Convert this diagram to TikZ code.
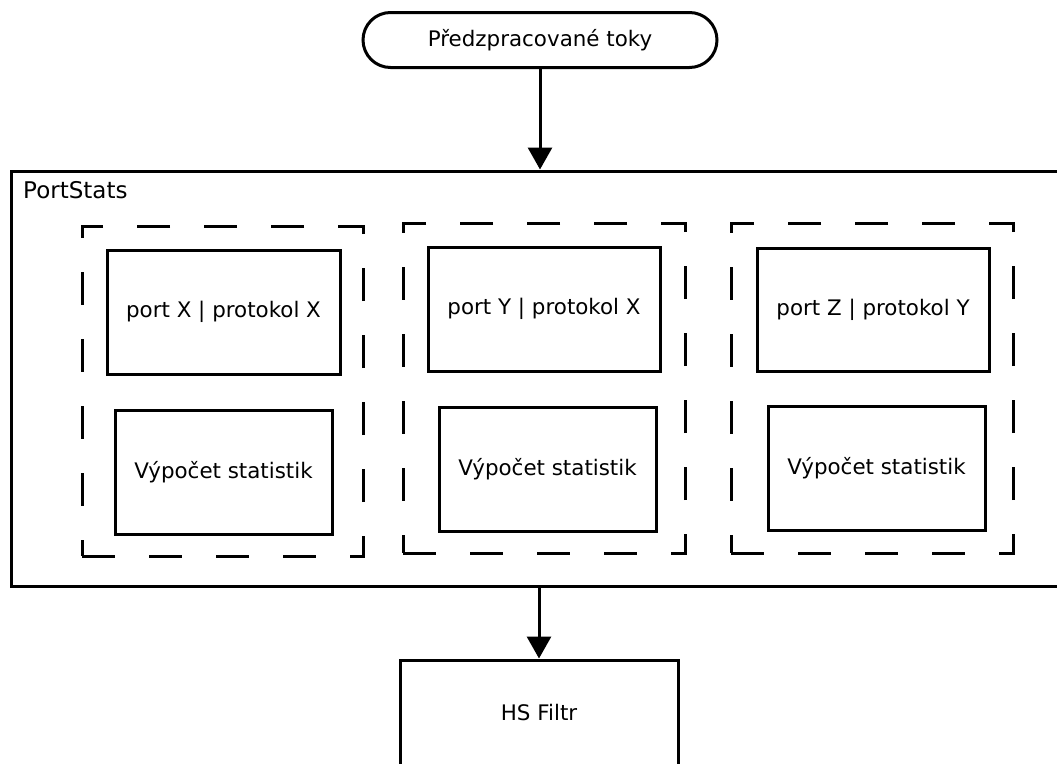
\documentclass[tikz,border=0pt]{standalone}
\usepackage{fontspec}
\setmainfont{DejaVu Sans}
\usetikzlibrary{positioning, arrows.meta, shapes.misc}

\tikzset{
  terminal/.style={draw, rounded rectangle, line width=3pt, minimum width=354pt, minimum height=55pt, inner sep=0pt},
  outerbox/.style={draw, rectangle, line width=3pt, inner sep=0pt},
  groupbox/.style={draw, rectangle, line width=3pt, dash pattern=on 33pt off 34pt, minimum width=281pt, minimum height=330pt, inner sep=0pt},
  procbox/.style={draw, rectangle, line width=3pt, minimum width=232pt, minimum height=124pt, inner sep=0pt},
  statbox/.style={draw, rectangle, line width=3pt, minimum width=217pt, minimum height=124pt, inner sep=0pt},
  flow/.style={-{Triangle[length=22pt,width=24pt]}, line width=3pt}
}

\begin{document}
\begin{tikzpicture}[x=1pt, y=-1pt, font=\fontsize{21.4}{25}\selectfont]

    % --- FRAME ---
    \clip (0,0) rectangle (1057,763);

    % --- INPUT ---
    \node[terminal] (src) at (540,40) {Předzpracované toky};

    % --- PORTSTATS MODULE ---
    \node[outerbox, minimum width=1100pt, minimum height=415pt] (portstats) at (561,378.5) {};
    \node[anchor=base west, inner sep=0pt, font=\fontsize{23}{27}\selectfont] (pslabel) at (23,198) {PortStats};

    % First group: port X
    \node[groupbox] (grpA) at (222.5,391) {};
    \node[procbox, minimum width=233pt] (keyA) at (223.5,312) {port X | protokol X};
    \node[statbox] (statA) at (223.5,472) {Výpočet statistik};

    % Second group: port Y
    \node[groupbox, minimum width=282pt] (grpB) at (544,388) {};
    \node[procbox] (keyB) at (544,309) {port Y | protokol X};
    \node[statbox] (statB) at (547.5,469) {Výpočet statistik};

    % Third group: port Z
    \node[groupbox, minimum width=282pt] (grpC) at (872,388) {};
    \node[procbox, minimum height=123pt] (keyC) at (873,309.5) {port Z | protokol Y};
    \node[statbox] (statC) at (876.5,468) {Výpočet statistik};

    % --- OUTPUT ---
    \node[procbox, minimum width=278pt, minimum height=106pt] (filtr) at (539,713) {HS Filtr};

    % --- CONNECTIONS ---
    \draw[flow] (src.south) -- (src.south |- portstats.north);
    \draw[flow] (filtr.north |- portstats.south) -- (filtr.north);

\end{tikzpicture}
\end{document}
